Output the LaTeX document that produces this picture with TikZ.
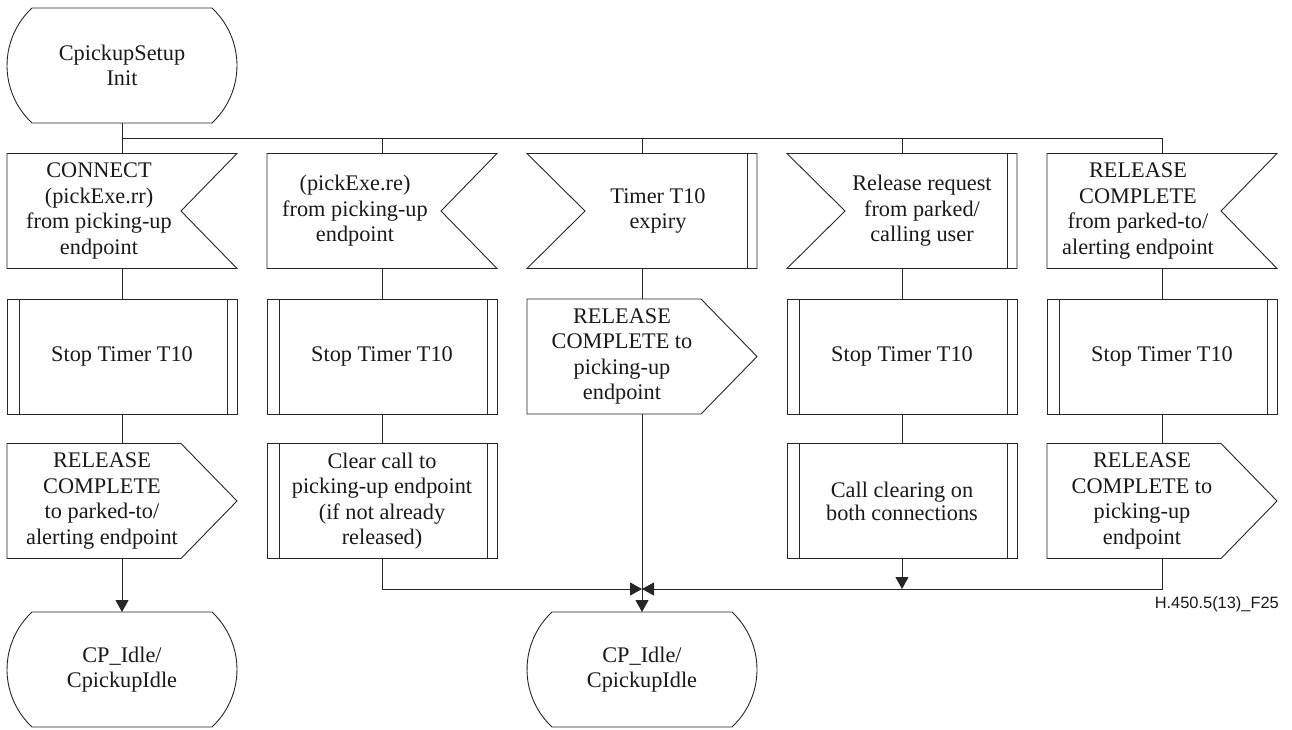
\documentclass[tikz,border=0pt]{standalone}
\usepackage{fontspec}
\setmainfont{Liberation Serif}
\newfontfamily\labelfont{Liberation Sans}
\usetikzlibrary{arrows.meta,calc}

% SDL symbol outlines, drawn around an empty cell node
\newcommand\stateshape[1]{\draw[ink] ($(#1.north west)+(25pt,0pt)$) arc[start angle=133,end angle=227,radius=78.6pt]
  -- ($(#1.south east)+(-25pt,0pt)$) arc[start angle=-47,end angle=47,radius=78.6pt] -- cycle;}
\newcommand\inright[1]{\draw[ink] (#1.north west) -- (#1.north east) -- ($(#1.east)+(-56pt,0pt)$)
  -- (#1.south east) -- (#1.south west) -- cycle;}
\newcommand\inleft[1]{\draw[ink] (#1.north west) -- (#1.north east) -- (#1.south east) -- (#1.south west)
  -- ($(#1.west)+(58pt,0pt)$) -- cycle;
  \draw[ink] ($(#1.north east)+(-10pt,0pt)$) -- ($(#1.south east)+(-10pt,0pt)$);}
\newcommand\outshape[1]{\draw[ink] (#1.north west) -- ($(#1.north east)+(-56pt,0pt)$) -- (#1.east)
  -- ($(#1.south east)+(-56pt,0pt)$) -- (#1.south west) -- cycle;}
\newcommand\procshape[1]{\draw[ink] (#1.north west) rectangle (#1.south east);
  \draw[ink] ($(#1.north west)+(12.5pt,0pt)$) -- ($(#1.south west)+(12.5pt,0pt)$);
  \draw[ink] ($(#1.north east)+(-10pt,0pt)$) -- ($(#1.south east)+(-10pt,0pt)$);}

\tikzset{
  ink/.style={draw=black!85, line width=0.9pt},
  cell/.style={minimum width=230pt, minimum height=115pt, inner sep=0pt, outer sep=0pt},
  txt/.style={align=center, inner sep=0pt, font=\fontsize{22.3}{25.5}\selectfont, text=black!90},
  arr/.style={ink, -{Triangle[length=12pt,width=13pt]}},
}

\begin{document}
\begin{tikzpicture}[x=1pt, y=-1pt]
\useasboundingbox (0,0) rectangle (1292,729);

% cells
\node[cell] (start) at (122,65.5) {};
\node[cell] (in1) at (122,211) {};
\node[cell] (in2) at (382,211) {};
\node[cell] (in3) at (642,211) {};
\node[cell] (in4) at (902,211) {};
\node[cell] (in5) at (1162,211) {};
\node[cell] (p1) at (122,356.5) {};
\node[cell] (p2) at (382,356.5) {};
\node[cell] (out3) at (642,356.5) {};
\node[cell] (p4) at (902,356.5) {};
\node[cell] (p5) at (1162,356.5) {};
\node[cell] (out1) at (122,501) {};
\node[cell] (c2) at (382,501) {};
\node[cell] (c4) at (902,501) {};
\node[cell] (out5) at (1162,501) {};
\node[cell] (fin1) at (122,669.5) {};
\node[cell] (fin2) at (642,669.5) {};

% outlines
\stateshape{start}
\inright{in1} \inright{in2} \inleft{in3} \inleft{in4} \inright{in5}
\procshape{p1} \procshape{p2} \outshape{out3} \procshape{p4} \procshape{p5}
\outshape{out1} \procshape{c2} \procshape{c4} \outshape{out5}
\stateshape{fin1} \stateshape{fin2}

% texts
\node[txt] (startt) at (start) {CpickupSetup\\Init};
\node[txt] (in1t) at ($(in1)+(-23pt,0pt)$) {CONNECT\\(pickExe.rr)\\from picking-up\\endpoint};
\node[txt] (in2t) at ($(in2)+(-27pt,0pt)$) {(pickExe.re)\\from picking-up\\endpoint};
\node[txt] (in3t) at ($(in3)+(16pt,0pt)$) {Timer T10\\expiry};
\node[txt] (in4t) at ($(in4)+(20pt,0pt)$) {Release request\\from parked/\\calling user};
\node[txt] (in5t) at ($(in5)+(-24pt,0pt)$) {RELEASE\\COMPLETE\\from parked-to/\\alerting endpoint};
\node[txt] (p1t) at (p1) {Stop Timer T10};
\node[txt] (p2t) at (p2) {Stop Timer T10};
\node[txt] (out3t) at ($(out3)+(-20pt,0pt)$) {RELEASE\\COMPLETE to\\picking-up\\endpoint};
\node[txt] (p4t) at (p4) {Stop Timer T10};
\node[txt] (p5t) at (p5) {Stop Timer T10};
\node[txt] (out1t) at ($(out1)+(-20pt,0pt)$) {RELEASE\\COMPLETE\\to parked-to/\\alerting endpoint};
\node[txt] (c2t) at (c2) {Clear call to\\picking-up endpoint\\(if not already\\released)};
\node[txt, font=\fontsize{22.3}{23}\selectfont] (c4t) at (c4) {Call clearing on\\both connections};
\node[txt] (out5t) at ($(out5)+(-20pt,0pt)$) {RELEASE\\COMPLETE to\\picking-up\\endpoint};
\node[txt] (fin1t) at (fin1) {CP\_Idle/\\CpickupIdle};
\node[txt] (fin2t) at (fin2) {CP\_Idle/\\CpickupIdle};

\node[anchor=base east, inner sep=0pt, text=black!90, font=\labelfont\fontsize{16.4}{18}\selectfont]
  (figid) at (1279,608) {H.450.5(13)\_F25};

% buses
\coordinate (topbus) at (0,138);
\coordinate (botbus) at (0,589);

% connectors
\draw[ink] (start.south) -- (in1.north);
\draw[ink] (in1.north |- topbus) -| (in5.north);
\foreach \c in {in2,in3,in4} \draw[ink] (\c.north |- topbus) -- (\c.north);
\draw[ink] (in1.south) -- (p1.north);
\draw[ink] (in2.south) -- (p2.north);
\draw[ink] (in3.south) -- (out3.north);
\draw[ink] (in4.south) -- (p4.north);
\draw[ink] (in5.south) -- (p5.north);
\draw[ink] (p1.south) -- (out1.north);
\draw[ink] (p2.south) -- (c2.north);
\draw[ink] (p4.south) -- (c4.north);
\draw[ink] (p5.south) -- (out5.north);
\draw[arr] (out1.south) -- (fin1.north);
\draw[arr] (out3.south) -- (fin2.north);
\draw[arr] (c2.south) |- (fin2.north |- botbus);
\draw[arr] (out5.south) |- (fin2.north |- botbus);
\draw[arr] (c4.south) -- (c4.south |- botbus);
\end{tikzpicture}
\end{document}
